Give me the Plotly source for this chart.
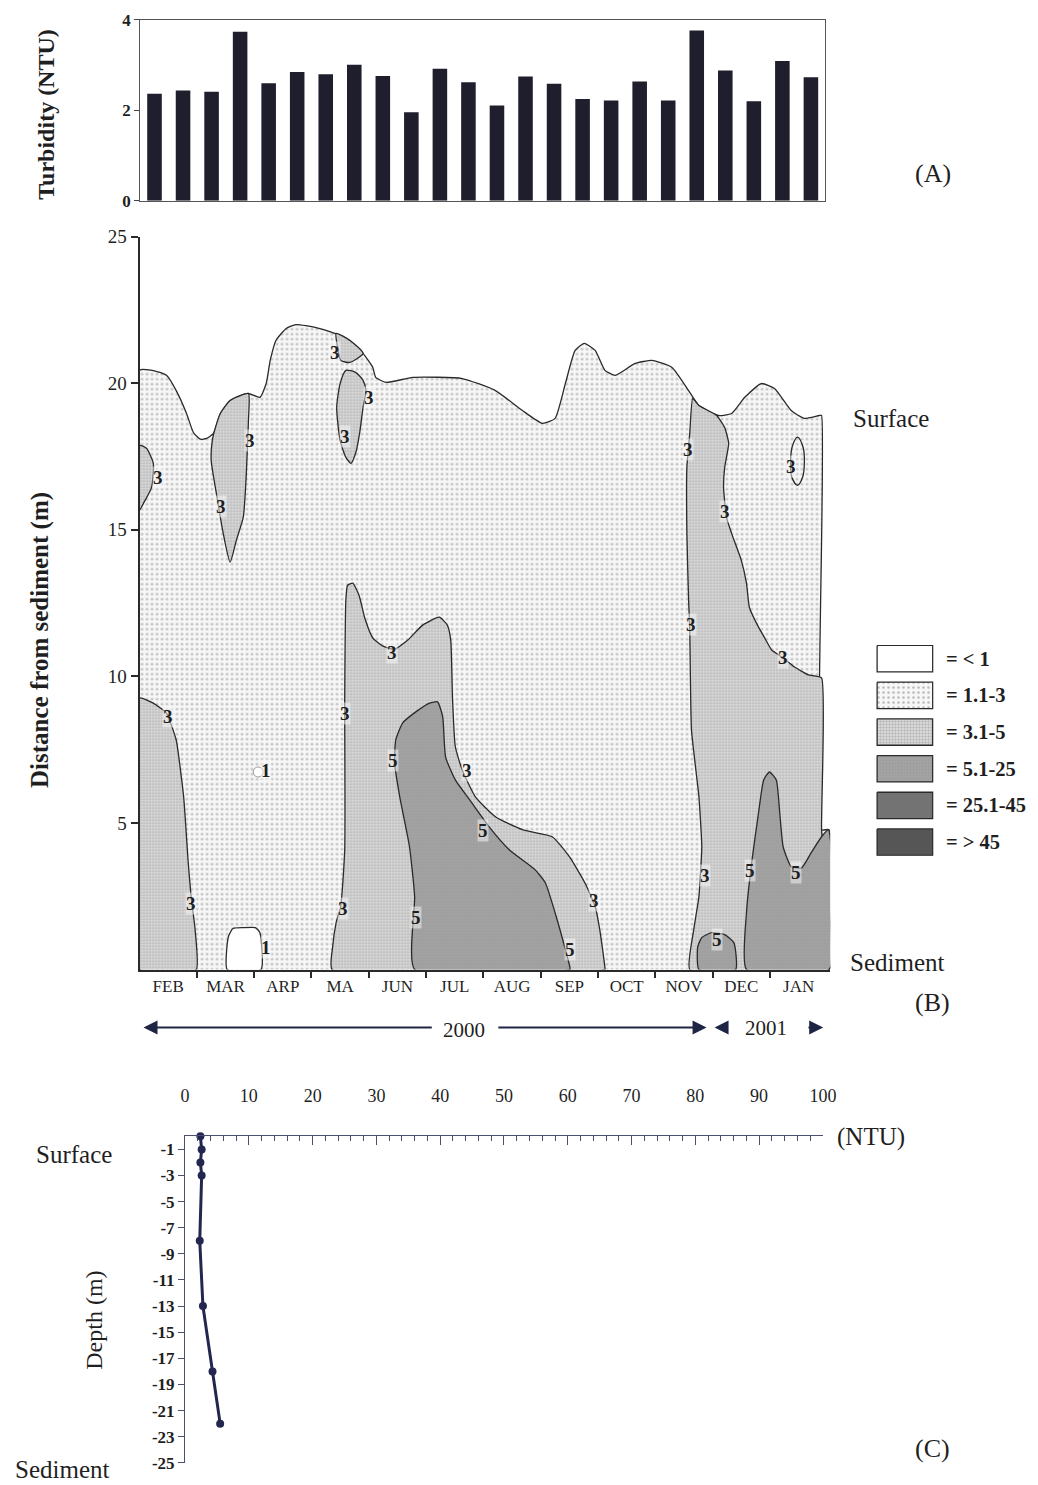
import plotly.graph_objects as go

# ---------------- Panel A: turbidity of the 24 sampling campaigns ----------------
sample_no = list(range(1, 25))
turbidity_ntu = [2.37, 2.44, 2.41, 3.74, 2.60, 2.85, 2.80, 3.01, 2.76, 1.96, 2.92, 2.62,
                 2.11, 2.75, 2.59, 2.25, 2.22, 2.64, 2.22, 3.77, 2.88, 2.20, 3.09, 2.73]

# ---------------- Panel B: time-distance isopleths (NTU) ----------------
months = ["FEB", "MAR", "ARP", "MA", "JUN", "JUL", "AUG", "SEP", "OCT", "NOV", "DEC", "JAN"]
month_centres = [i + 0.5 for i in range(12)]
month_edges = list(range(1, 12))

# water column (surface line), filled as 1.1-3 NTU
surface_x = [0.00, 0.30, 0.47, 0.64, 0.82, 0.94, 1.06, 1.17, 1.29, 1.41, 1.58, 1.76, 1.90, 2.10,
             2.21, 2.28, 2.38, 2.56, 2.73, 3.08, 3.37, 3.67, 3.90, 4.07, 4.12, 4.30, 4.77, 5.63,
             6.21, 6.68, 7.03, 7.25, 7.43, 7.60, 7.76, 7.95, 8.12, 8.30, 8.64, 8.94, 9.29, 9.58,
             9.76, 10.10, 10.33, 10.56, 10.85, 11.08, 11.37, 11.60, 11.86, 11.90, 11.90, 12.03,
             12.03, 0.00]
surface_y = [20.44, 20.40, 20.27, 19.75, 18.97, 18.32, 18.09, 18.12, 18.29, 18.97, 19.41, 19.58,
             19.65, 19.52, 19.99, 20.78, 21.46, 21.87, 22.00, 21.90, 21.73, 21.46, 21.02, 20.54,
             20.20, 20.03, 20.20, 20.16, 19.75, 19.07, 18.63, 18.80, 19.99, 21.12, 21.36, 21.12,
             20.44, 20.27, 20.67, 20.78, 20.54, 19.75, 19.24, 18.90, 18.97, 19.52, 19.99, 19.82,
             19.07, 18.80, 18.90, 18.90, 4.77, 4.77, 0.00, 0.00]

# 3.1-5 NTU patches
feb_top_x = [0.00, 0.12, 0.24, 0.21, 0.07, 0.00]
feb_top_y = [17.88, 17.78, 17.27, 16.45, 15.91, 15.67]

mar_x = [1.32, 1.41, 1.58, 1.76, 1.90, 1.90, 1.88, 1.86, 1.81, 1.69, 1.58, 1.46, 1.34, 1.25, 1.27]
mar_y = [18.46, 18.97, 19.41, 19.58, 19.65, 18.73, 17.71, 16.79, 15.43, 14.65, 13.90, 14.88,
         16.25, 17.37, 18.05]

may_cap_x = [3.43, 3.67, 3.90, 3.67, 3.51, 3.46]
may_cap_y = [21.70, 21.46, 21.02, 20.71, 20.78, 21.19]

may_lobe_x = [3.60, 3.50, 3.44, 3.50, 3.60, 3.69, 3.77, 3.84, 3.90, 3.95, 3.90, 3.77]
may_lobe_y = [20.44, 19.99, 19.18, 18.05, 17.47, 17.27, 17.61, 18.29, 19.18, 19.75, 20.10, 20.37]

feb_bottom_x = [0.00, 0.24, 0.47, 0.64, 0.77, 0.85, 0.90, 0.97, 0.99, 0.00]
feb_bottom_y = [9.26, 9.09, 8.75, 7.83, 5.89, 3.64, 2.49, 1.36, 0.00, 0.00]

summer_x = [3.36, 3.37, 3.43, 3.51, 3.58, 3.58, 3.60, 3.63, 3.72, 3.83, 3.93, 4.07, 4.24, 4.45,
            4.68, 4.94, 5.23, 5.37, 5.43, 5.46, 5.51, 5.63, 5.86, 6.21, 6.68, 7.20, 7.50, 7.77,
            7.95, 8.03, 8.12, 8.12]
summer_y = [0.00, 0.78, 1.60, 2.15, 4.09, 9.20, 12.60, 13.11, 13.18, 12.77, 11.99, 11.31, 11.04,
            10.93, 11.24, 11.75, 12.02, 11.75, 11.24, 9.30, 7.60, 6.81, 5.89, 5.21, 4.77, 4.53,
            3.85, 2.96, 2.15, 1.36, 0.07, 0.00]

winter_x = [9.65, 9.60, 9.55, 9.55, 9.58, 9.60, 9.63, 9.76, 9.81, 9.76, 9.67, 9.60, 12.03, 11.90,
            11.90, 11.67, 11.43, 11.23, 11.03, 10.90, 10.80, 10.64, 10.59, 10.50, 10.33, 10.24,
            10.19, 10.21, 10.28, 10.21, 10.07, 9.76]
winter_y = [19.48, 18.29, 17.13, 14.88, 12.60, 11.58, 8.17, 5.89, 4.19, 2.49, 1.36, 0.00, 0.00,
            4.77, 9.95, 10.05, 10.32, 10.63, 10.90, 11.34, 11.68, 12.36, 13.18, 13.96, 14.88,
            15.43, 16.45, 17.13, 17.95, 18.49, 18.90, 19.24]

jan_oval_x = [11.48, 11.58, 11.60, 11.57, 11.48, 11.38, 11.36, 11.39]
jan_oval_y = [18.16, 17.80, 17.34, 16.80, 16.52, 16.80, 17.34, 17.85]

# 5.1-25 NTU patches
jul_x = [4.80, 4.80, 4.71, 4.54, 4.45, 4.47, 4.59, 4.82, 5.06, 5.20, 5.29, 5.34, 5.51, 5.76,
         6.10, 6.45, 6.90, 7.08, 7.25, 7.37, 7.51, 7.51]
jul_y = [0.00, 2.49, 4.19, 5.89, 7.05, 7.83, 8.41, 8.79, 9.09, 9.13, 8.62, 7.25, 6.47, 5.79,
         4.87, 4.09, 3.41, 2.96, 1.94, 1.12, 0.07, 0.00]

dec_x = [9.76, 9.74, 9.81, 9.98, 10.21, 10.37, 10.40]
dec_y = [0.00, 0.78, 1.09, 1.26, 1.19, 0.92, 0.00]

jan_x = [10.59, 10.59, 10.68, 10.80, 10.89, 10.99, 11.11, 11.17, 11.23, 11.37, 11.55, 11.72,
         11.90, 12.02, 12.03]
jan_y = [0.00, 1.94, 3.64, 5.35, 6.47, 6.74, 6.47, 5.35, 4.19, 3.51, 3.47, 3.99, 4.53, 4.77, 0.00]

# < 1 NTU pockets
apr_bottom_x = [1.53, 1.55, 1.63, 1.81, 2.02, 2.10, 2.12]
apr_bottom_y = [0.00, 1.12, 1.40, 1.43, 1.43, 1.26, 0.00]
apr_pocket_x = [2.07]
apr_pocket_y = [6.74]

# isopleth value labels
iso_x = [0.33, 1.43, 1.93, 3.41, 4.00, 3.58, 0.49, 0.90, 2.21, 2.21, 3.58, 3.55, 4.40, 4.43,
         4.82, 5.72, 6.00, 7.93, 7.51, 9.57, 10.21, 9.62, 11.23, 11.37, 9.86, 10.07, 10.66, 11.46]
iso_y = [16.79, 15.80, 18.05, 21.05, 19.52, 18.19, 8.62, 2.25, 6.78, 0.75, 8.72, 2.08, 10.83,
         7.12, 1.77, 6.78, 4.73, 2.35, 0.68, 17.75, 15.63, 11.78, 10.63, 17.17, 3.20, 1.02,
         3.37, 3.30]
iso_text = ["3", "3", "3", "3", "3", "3", "3", "3", "1", "1", "3", "3", "3", "5",
            "5", "3", "5", "3", "5", "3", "3", "3", "3", "3", "3", "5", "5", "5"]

class_labels = ["= < 1", "= 1.1-3", "= 3.1-5", "= 5.1-25", "= 25.1-45", "= > 45"]

# ---------------- Panel C: vertical profile ----------------
depth_m = [0, -1, -2, -3, -8, -13, -18, -22]
profile_ntu = [2.4, 2.6, 2.4, 2.6, 2.3, 2.8, 4.3, 5.5]
depth_ticks = list(range(-1, -26, -2))
ntu_ticks = list(range(0, 101, 10))

# ---------------- styling ----------------
FONT = "Liberation Serif"
INK = "#2a2a2a"
NAVY = "#23264f"
TXT = "#1f1f1f"

CLASS_STYLE = [
    dict(fillcolor="#ffffff"),
    dict(fillcolor="#f3f3f3",
         fillpattern=dict(shape=".", size=5, solidity=0.2, fgcolor="#7c7c7c", bgcolor="#f7f7f7")),
    dict(fillcolor="#d6d6d6",
         fillpattern=dict(shape=".", size=3, solidity=0.5, fgcolor="#8c8c8c", bgcolor="#e2e2e2")),
    dict(fillcolor="#9e9e9e",
         fillpattern=dict(shape=".", size=3, solidity=0.25, fgcolor="#8e8e8e", bgcolor="#a3a3a3")),
    dict(fillcolor="#737373"),
    dict(fillcolor="#565656"),
]


def px(v):
    """Horizontal page position (px) -> paper fraction."""
    return (v / 0.987) / 1038.0


def py(v):
    """Vertical page position (px) -> paper fraction."""
    return 1.0 - ((v - 9.0) / 0.988) / 1485.0


fig = go.Figure()

# Panel A bars
fig.add_trace(go.Bar(x=sample_no, y=turbidity_ntu, width=0.51,
                     marker=dict(color="#1e1e2c", line=dict(width=0)),
                     xaxis="x", yaxis="y", showlegend=False, hoverinfo="skip"))


def region(xs, ys, cls, smooth=0.6):
    fig.add_trace(go.Scatter(
        x=xs + xs[:1], y=ys + ys[:1], mode="lines", fill="toself",
        line=dict(color=INK, width=1.3, shape="spline", smoothing=smooth),
        xaxis="x2", yaxis="y2", showlegend=False, hoverinfo="skip", **CLASS_STYLE[cls]))


region(surface_x, surface_y, 1, 0.5)
region(feb_top_x, feb_top_y, 2)
region(mar_x, mar_y, 2)
region(may_cap_x, may_cap_y, 2)
region(may_lobe_x, may_lobe_y, 2)
region(feb_bottom_x, feb_bottom_y, 2, 0.4)
region(summer_x, summer_y, 2, 0.5)
region(winter_x, winter_y, 2, 0.4)
region(jul_x, jul_y, 3, 0.5)
region(dec_x, dec_y, 3, 0.5)
region(jan_x, jan_y, 3, 0.5)
region(apr_bottom_x, apr_bottom_y, 0, 0.5)
region(jan_oval_x, jan_oval_y, 1, 1.0)
fig.add_trace(go.Scatter(x=apr_pocket_x, y=apr_pocket_y, mode="markers",
                         marker=dict(size=10, color="white", line=dict(color="#9a9a9a", width=1)),
                         xaxis="x2", yaxis="y2", showlegend=False, hoverinfo="skip"))

# legend swatches
for i, lab in enumerate(class_labels):
    fig.add_trace(go.Scatter(x=[0, 1, 1, 0, 0], y=[i - 0.36, i - 0.36, i + 0.36, i + 0.36, i - 0.36],
                             mode="lines", fill="toself", line=dict(color=INK, width=1.3),
                             xaxis="x4", yaxis="y4", showlegend=False, hoverinfo="skip",
                             **CLASS_STYLE[i]))

# Panel C profile
fig.add_trace(go.Scatter(x=profile_ntu, y=depth_m, mode="lines+markers",
                         line=dict(color=NAVY, width=3), marker=dict(size=8, color=NAVY),
                         cliponaxis=False, xaxis="x3", yaxis="y3", showlegend=False, hoverinfo="skip"))

annotations = []
for x, y, t in zip(iso_x, iso_y, iso_text):
    annotations.append(dict(x=x, y=y, xref="x2", yref="y2", text=t, showarrow=False,
                            font=dict(family=FONT, size=19, color=TXT, weight="bold"),
                            bgcolor="rgba(250,250,250,0.5)", borderpad=0))

for i, lab in enumerate(class_labels):
    annotations.append(dict(x=px(943), y=i, xref="paper", yref="y4", text=lab, showarrow=False,
                            xanchor="left", yanchor="middle",
                            font=dict(family=FONT, size=20.5, color=TXT, weight="bold")))


def label(text, x, y, size=25, angle=0, bold=False):
    annotations.append(dict(x=px(x), y=py(y), xref="paper", yref="paper", text=text, showarrow=False,
                            textangle=angle, xanchor="center", yanchor="middle",
                            font=dict(family=FONT, size=size, color=TXT,
                                      weight="bold" if bold else "normal")))


label("Turbidity (NTU)", 42, 114, 24, -90, True)
label("(A)", 932, 173, 26)
label("Distance from sediment (m)", 36, 640, 25, -90, True)
label("Surface", 890, 418)
label("Sediment", 896, 963)
label("(B)", 932, 1003, 26)
label("2000", 462, 1031, 21)
label("2001", 765, 1029, 21)
label("(NTU)", 870, 1138)
label("Surface", 70, 1155)
label("Depth (m)", 90, 1321, 24, -90)
label("Sediment", 58, 1471)
label("(C)", 932, 1450, 26)


def arrow(head, tail, y=1028):
    annotations.append(dict(x=px(head), y=py(y), xref="paper", yref="paper", text="",
                            showarrow=True, ax=(tail - head) / 0.987, ay=0, axref="pixel",
                            ayref="pixel", arrowhead=2, arrowsize=1.4, arrowwidth=2,
                            arrowcolor="#1d2444"))


arrow(140, 426)
arrow(705, 498)
arrow(713, 727)
arrow(822, 806)

fig.update_layout(
    width=1038, height=1485, margin=dict(l=0, r=0, t=0, b=0),
    paper_bgcolor="white", plot_bgcolor="rgba(0,0,0,0)", annotations=annotations,
    xaxis=dict(domain=[px(136.7), px(824)], anchor="y", range=[0.5, 24.5], showticklabels=False,
               ticks="", showgrid=False, zeroline=False, showline=True, linecolor="#555",
               linewidth=1.2, mirror=True),
    yaxis=dict(domain=[py(200), py(19)], anchor="x", range=[0, 4], tickvals=[0, 2, 4],
               ticks="outside", ticklen=5, tickcolor="#444", showgrid=False, zeroline=False,
               showline=True, linecolor="#555", linewidth=1.2, mirror=True,
               tickfont=dict(family=FONT, size=17, color=TXT, weight="bold")),
    xaxis2=dict(domain=[px(136), px(829)], anchor="y2", range=[0, 12.05], tickvals=month_centres,
                ticktext=months, ticks="", tickfont=dict(family=FONT, size=17, color=TXT),
                showgrid=False, zeroline=False, showline=True, linecolor="#2a2a2a", linewidth=2.2,
                minor=dict(tickmode="array", tickvals=month_edges, ticks="outside", ticklen=6,
                           tickcolor="#2a2a2a", tickwidth=1.5, showgrid=False)),
    yaxis2=dict(domain=[py(970), py(236)], anchor="x2", range=[0, 25], tickvals=[5, 10, 15, 20, 25],
                ticks="outside", ticklen=7, tickcolor="#2a2a2a", tickwidth=1.5, showgrid=False,
                zeroline=False, showline=True, linecolor="#2a2a2a", linewidth=1.8,
                tickfont=dict(family=FONT, size=19, color=TXT)),
    xaxis3=dict(domain=[px(181.7), px(821.7)], anchor="y3", side="top", range=[0, 100],
                tickvals=ntu_ticks, ticks="inside", ticklen=9, tickcolor="#4a4f70", tickwidth=1.2,
                ticklabelstandoff=26, tickfont=dict(family=FONT, size=18, color=TXT),
                showgrid=False, zeroline=False, showline=True, linecolor="#4a4f70", linewidth=1.2,
                minor=dict(dtick=2, tick0=0, ticks="inside", ticklen=5, tickcolor="#4a4f70",
                           tickwidth=1, showgrid=False)),
    yaxis3=dict(domain=[py(1464), py(1137)], anchor="x3", range=[-25, 0], tickvals=depth_ticks,
                ticktext=[str(v) for v in depth_ticks],
                ticks="outside", ticklen=6, tickcolor="#4a4f70", showgrid=False, zeroline=False,
                showline=True, linecolor="#4a4f70", linewidth=1.2,
                tickfont=dict(family=FONT, size=17, color=TXT, weight="bold")),
    xaxis4=dict(domain=[px(875), px(933)], anchor="y4", range=[-0.02, 1.02], visible=False),
    yaxis4=dict(domain=[py(856), py(645)], anchor="x4", range=[5.37, -0.37], visible=False),
)

fig.write_html("out.html")
